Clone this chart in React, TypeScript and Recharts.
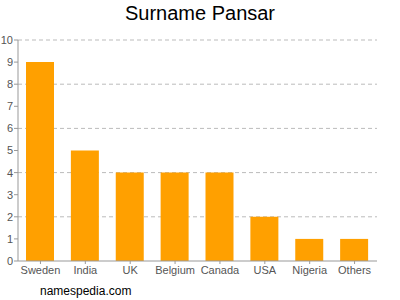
import { BarChart, Bar, XAxis, YAxis, CartesianGrid } from 'recharts';

const countries = ['Sweden', 'India', 'UK', 'Belgium', 'Canada', 'USA', 'Nigeria', 'Others'];
const counts = [9, 5, 4, 4, 4, 2, 1, 1];
const yTicks = [0, 1, 2, 3, 4, 5, 6, 7, 8, 9, 10];
const gridValues = [2, 4, 6, 8, 10];

const data = countries.map((name, i) => ({ name, value: counts[i] }));

export default function App() {
  return (
    <div style={{ position: 'absolute', left: 0, top: 0, width: 400, height: 300, background: '#fff', fontFamily: '"Liberation Sans", Arial, sans-serif' }}>
      <div style={{ position: 'absolute', top: 2, width: 400, textAlign: 'center', fontSize: 20, color: '#000' }}>
        Surname Pansar
      </div>
      <BarChart
        width={400}
        height={300}
        data={data}
        margin={{ top: 40, right: 23, left: 0, bottom: 19 }}
        barSize={28}
      >
        <CartesianGrid vertical={false} horizontalValues={gridValues} stroke="#bbb" strokeDasharray="4 3" />
        <XAxis
          dataKey="name"
          height={20}
          tickSize={3}
          stroke="#999"
          tick={{ fill: '#555', fontSize: 11 }}
          interval={0}
        />
        <YAxis
          width={18}
          domain={[0, 10]}
          ticks={yTicks}
          tickSize={4}
          tickMargin={1}
          stroke="#999"
          tick={{ fill: '#555', fontSize: 11 }}
          interval={0}
        />
        <Bar dataKey="value" fill="#ffa000" isAnimationActive={false} />
      </BarChart>
      <div style={{ position: 'absolute', left: 40, top: 284, fontSize: 12, color: '#000' }}>
        namespedia.com
      </div>
    </div>
  );
}
